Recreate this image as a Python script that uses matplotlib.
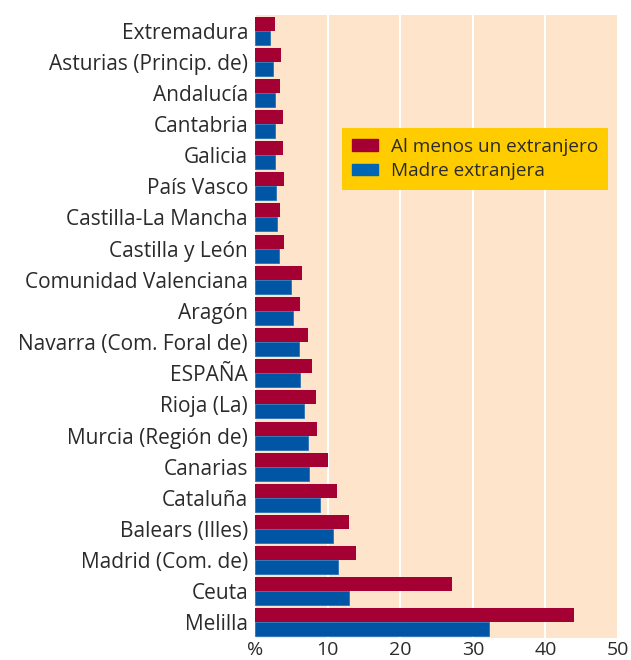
import numpy as np
import matplotlib
matplotlib.use("Agg")
from matplotlib import pyplot as plt
from matplotlib.patches import Patch

regions = ["Extremadura", "Asturias (Princip. de)", "Andalucía", "Cantabria", "Galicia",
           "País Vasco", "Castilla-La Mancha", "Castilla y León", "Comunidad Valenciana",
           "Aragón", "Navarra (Com. Foral de)", "ESPAÑA", "Rioja (La)", "Murcia (Región de)",
           "Canarias", "Cataluña", "Balears (Illes)", "Madrid (Com. de)", "Ceuta", "Melilla"]
al_menos_uno = [2.7, 3.6, 3.5, 3.8, 3.9, 4.0, 3.5, 4.0, 6.5, 6.2,
                7.3, 7.9, 8.4, 8.5, 10.0, 11.3, 13.0, 13.9, 27.2, 43.9]
madre = [2.1, 2.5, 2.8, 2.8, 2.8, 2.9, 3.0, 3.3, 5.0, 5.2,
         6.0, 6.2, 6.7, 7.3, 7.4, 9.0, 10.8, 11.5, 13.0, 32.2]
xticks = [0, 10, 20, 30, 40, 50]
xticklabels = ["%", "10", "20", "30", "40", "50"]

red = "#A50034"
blue = "#0055A4"
peach = "#FDE4CA"
text_col = "#2b2b2b"

plt.rcParams['font.family'] = ['Open Sans', 'DejaVu Sans']

fig = plt.figure(figsize=(6.31, 6.60), dpi=100)
ax = fig.add_axes([255/631, 22/660, 363/631, 623/660])
ax.set_facecolor(peach)

y = np.arange(len(regions))
h = 0.45
ax.barh(y - h/2, al_menos_uno, height=h, color=red, zorder=3)
ax.barh(y + h/2, madre, height=h, color=blue, edgecolor="#2a73b8", linewidth=0.6, zorder=3)

ax.set_xlim(0, 50)
ax.set_ylim(len(regions) - 0.5, -0.5)
ax.set_yticks(y)
ax.set_yticklabels(regions, fontsize=15, color=text_col)
ax.set_xticks(xticks)
ax.set_xticklabels(xticklabels, fontsize=14, color=text_col)
ax.tick_params(axis="y", length=0, pad=5)
ax.tick_params(axis="x", length=0, pad=2)
ax.grid(axis="x", color="white", linewidth=1.5, zorder=1)
for s in ax.spines.values():
    s.set_visible(False)

handles = [Patch(color=red), Patch(color="#0066B3")]
leg = ax.legend(handles, ["Al menos un extranjero", "Madre extranjera"],
                loc="upper left", bbox_to_anchor=(87/363, 1 - 113/623), borderaxespad=0,
                fontsize=13.7, frameon=True, fancybox=False, borderpad=0.5,
                handlelength=1.4, handleheight=0.58, handletextpad=0.7, labelspacing=0.35)
leg.get_frame().set_facecolor("#FFCC00")
leg.get_frame().set_edgecolor("none")
leg.get_frame().set_alpha(1)
for t in leg.get_texts():
    t.set_color(text_col)

fig.savefig("out.png", dpi=100)
